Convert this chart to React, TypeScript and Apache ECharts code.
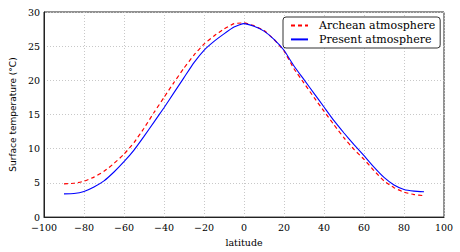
import React, { useEffect, useRef } from "react";
import * as echarts from "echarts";

const latitudes = [-90, -85, -80, -75, -70, -65, -60, -55, -50, -45, -40, -35, -30, -25, -20, -15, -10, -5, 0, 5, 10, 15, 20, 25, 30, 35, 40, 45, 50, 55, 60, 65, 70, 75, 80, 85, 90];
const archean = [4.85, 4.95, 5.25, 5.85, 6.7, 7.85, 9.2, 10.9, 13.0, 15.3, 17.5, 19.7, 21.8, 23.7, 25.3, 26.5, 27.5, 28.3, 28.4, 28.0, 27.3, 26.0, 24.3, 21.7, 19.6, 17.5, 15.5, 13.5, 11.6, 9.9, 8.45, 6.8, 5.3, 4.3, 3.65, 3.3, 3.13];
const present = [3.4, 3.45, 3.75, 4.4, 5.3, 6.6, 8.1, 9.8, 11.8, 13.9, 16.0, 18.2, 20.4, 22.6, 24.4, 25.7, 26.8, 27.8, 28.3, 27.9, 27.2, 26.0, 24.4, 22.1, 20.1, 18.1, 16.1, 14.1, 12.3, 10.6, 9.0, 7.3, 5.8, 4.7, 4.05, 3.8, 3.7];
const seriesNames = ["Archean atmosphere", "Present atmosphere"];
const xLabel = "latitude";
const yLabel = "Surface temperature (°C)";

export default function App() {
  const ref = useRef<HTMLDivElement>(null);
  useEffect(() => {
    document.body.style.margin = "0";
    const chart = echarts.init(ref.current!, null, { renderer: "svg" });
    const fmt = (v: number) => String(v).replace("-", "\u2212");
    const tickFont = { fontFamily: "DejaVu Serif", fontSize: 9.5, color: "#000", lineHeight: 10 };
    chart.setOption({
      animation: false,
      backgroundColor: "#fff",
      grid: {
        left: 35,
        right: 16,
        top: 12,
        bottom: 29,
        show: true,
        borderColor: "#222",
        borderWidth: 1,
        containLabel: false,
      },
      legend: {
        orient: "vertical",
        left: 283,
        top: 17,
        data: seriesNames,
        backgroundColor: "#fff",
        borderColor: "#333",
        borderWidth: 1,
        borderRadius: 3,
        padding: [3, 5, 3, 7],
        itemWidth: 17,
        itemHeight: 14,
        itemGap: 2.6,
        itemStyle: { opacity: 0, borderWidth: 0 },
        textStyle: { fontFamily: "DejaVu Serif", fontSize: 11, color: "#000", padding: [0, 0, 0, 6] },
      },
      xAxis: {
        type: "value",
        min: -100,
        max: 100,
        interval: 20,
        name: xLabel,
        nameLocation: "middle",
        nameGap: 13,
        nameTextStyle: { fontFamily: "DejaVu Serif", fontSize: 9.5, color: "#000" },
        axisLine: { show: true, onZero: false, lineStyle: { color: "#222" } },
        axisTick: { show: false },
        axisLabel: { ...tickFont, margin: 5, formatter: fmt },
        splitLine: { show: true, lineStyle: { color: "#c8c8c8", type: [1, 2], width: 1 } },
      },
      yAxis: {
        type: "value",
        min: 0,
        max: 30,
        interval: 5,
        name: yLabel,
        nameLocation: "middle",
        nameGap: 19,
        nameTextStyle: { fontFamily: "DejaVu Sans", fontSize: 9, color: "#000" },
        axisLine: { show: true, onZero: false, lineStyle: { color: "#222" } },
        axisTick: { show: false },
        axisLabel: { ...tickFont, margin: 4, formatter: fmt },
        splitLine: { show: true, lineStyle: { color: "#c8c8c8", type: [1, 2], width: 1 } },
      },
      series: [
        {
          name: seriesNames[0],
          type: "line",
          data: latitudes.map((x, i) => [x, archean[i]]),
          showSymbol: false,
          symbol: "none",
          smooth: 0.15,
          lineStyle: { color: "#ff0000", width: 1.2, type: [4, 3] },
          itemStyle: { color: "#ff0000" },
        },
        {
          name: seriesNames[1],
          type: "line",
          data: latitudes.map((x, i) => [x, present[i]]),
          showSymbol: false,
          symbol: "none",
          smooth: 0.15,
          lineStyle: { color: "#0000ff", width: 1.1 },
          itemStyle: { color: "#0000ff" },
        },
      ],
    });
    return () => chart.dispose();
  }, []);
  return <div ref={ref} style={{ width: 460, height: 252 }} />;
}
